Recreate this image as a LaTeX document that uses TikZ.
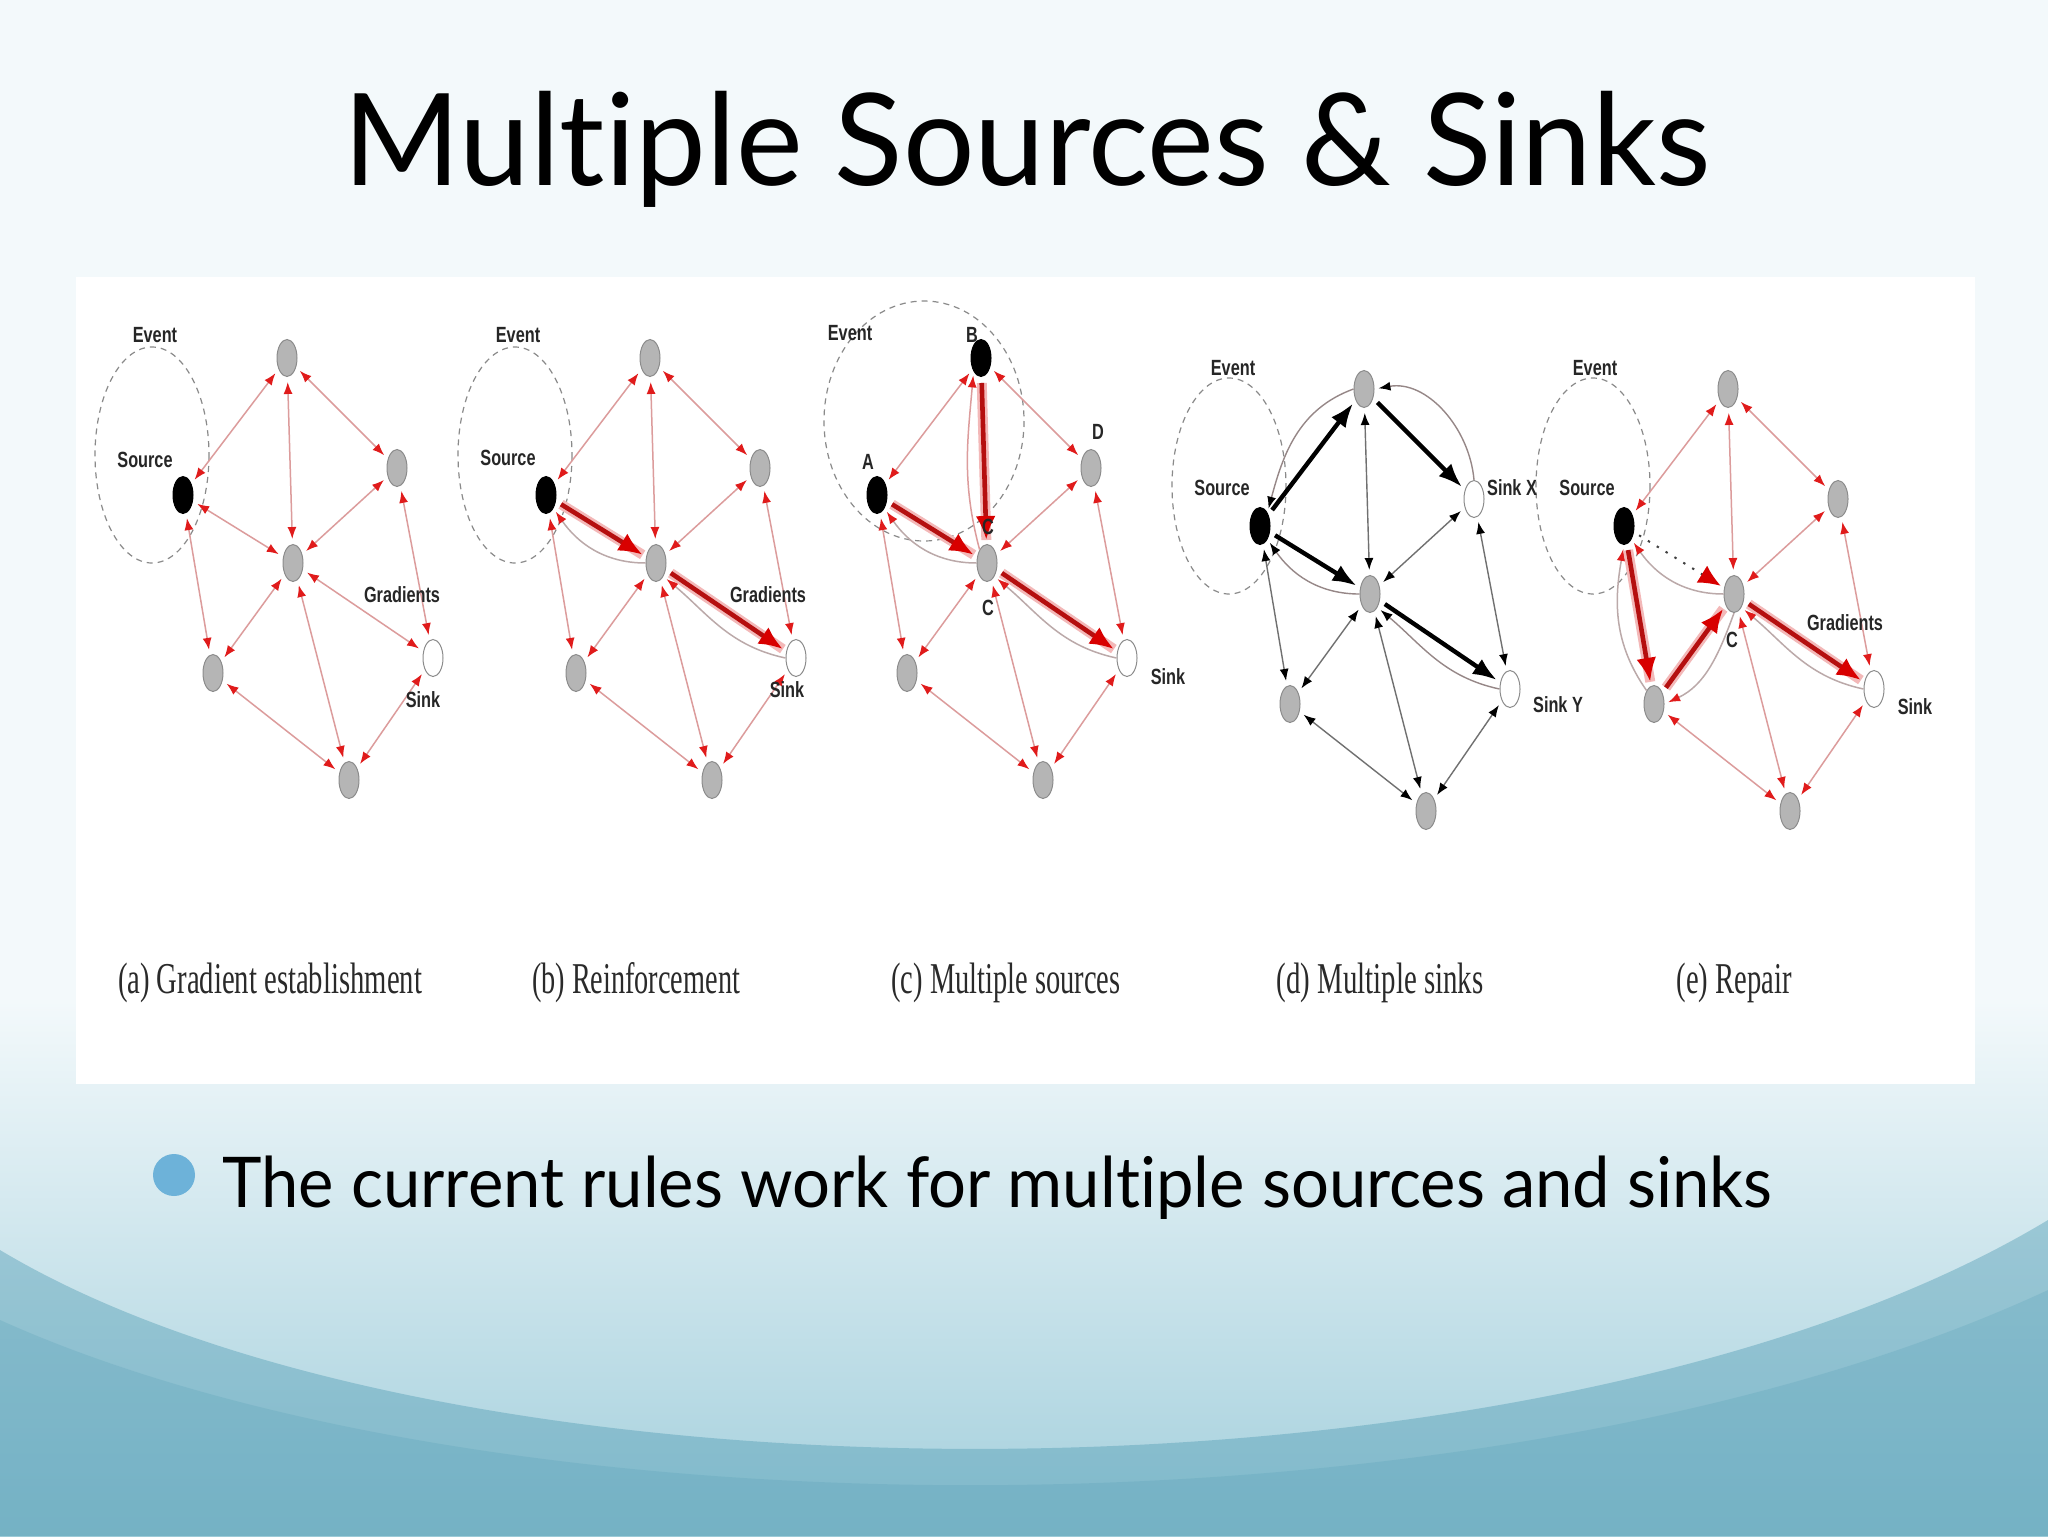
\documentclass[tikz,border=0pt]{standalone}
\usepackage{fontspec}
\setmainfont{Lato}
\newfontfamily\labfont{Liberation Sans}
\newfontfamily\capfont{Liberation Serif}
\usetikzlibrary{arrows.meta,shapes.geometric}

\definecolor{bgtop}{HTML}{F3F9FB}
\definecolor{bgbot}{HTML}{A3CFDC}
\definecolor{wave}{HTML}{4F9BB3}
\definecolor{nodegray}{HTML}{B5B5B5}
\definecolor{nodeedge}{HTML}{8C8C8C}
\definecolor{edgered}{HTML}{DC9C9C}
\definecolor{arrred}{HTML}{E01B1B}
\definecolor{thkred}{HTML}{B50F0F}
\definecolor{thkarrow}{HTML}{D80000}
\definecolor{halored}{HTML}{F3B8B8}
\definecolor{curvegray}{HTML}{BBA9A9}
\definecolor{edgegray}{HTML}{707070}
\definecolor{evgray}{HTML}{8A8A8A}
\definecolor{bulletblue}{HTML}{6DB2D9}
\definecolor{captcol}{HTML}{2A2A2A}

\tikzset{
 nd/.style={ellipse, minimum width=10pt, minimum height=18.5pt, inner sep=0pt, line width=0.5pt},
 gn/.style={nd, fill=nodegray, draw=nodeedge},
 bn/.style={nd, fill=black, draw=black},
 wn/.style={nd, fill=white, draw=nodeedge},
 re/.style={draw=edgered, line width=0.75pt, {Latex[length=6pt,width=4.5pt,color=arrred]}-{Latex[length=6pt,width=4.5pt,color=arrred]}, shorten <=2.5pt, shorten >=2.5pt},
 ke/.style={draw=edgegray, line width=0.7pt, {Latex[length=6pt,width=4.5pt,color=black]}-{Latex[length=6pt,width=4.5pt,color=black]}, shorten <=2.5pt, shorten >=2.5pt},
 rthk/.style={draw=thkred, line width=2.3pt, -{Latex[length=12pt,width=10pt,color=thkarrow]}, shorten <=3pt, shorten >=2pt,
   preaction={draw=halored, line width=5pt, arrows=-}},
 kthk/.style={draw=black, line width=2.2pt, -{Latex[length=12pt,width=9pt]}, shorten <=3pt, shorten >=2pt},
 rcv/.style={draw=curvegray, line width=0.75pt, -{Latex[length=6pt,width=4.5pt,color=arrred]}, shorten >=2pt},
 kcv/.style={draw=curvegray!80!black, line width=0.7pt, -{Latex[length=6pt,width=4.5pt,color=black]}, shorten >=2pt},
 evt/.style={draw=evgray, line width=0.6pt, dash pattern=on 3pt off 2.5pt},
 lab/.style={inner sep=0pt, font=\labfont\bfseries\fontsize{11}{13}\selectfont, text=black!85},
 captxt/.style={inner sep=0pt, anchor=base, text=captcol, font=\capfont\fontsize{22}{26}\selectfont},
}
\newcommand\lbl[1]{\scalebox{0.74}[1]{#1}}
\newcommand\pnodes[5]{%
 \node[#2] (#1T) at (287,358) {};
 \node[#3] (#1R) at (397,468) {};
 \node[#4] (#1S) at (183,495) {};
 \node[gn] (#1C) at (293,563) {};
 \node[#5] (#1K) at (433,658) {};
 \node[gn] (#1L) at (213,673) {};
 \node[gn] (#1B) at (349,780) {};
}

\begin{document}
\begin{tikzpicture}[x=0.5pt,y=-0.5pt]
\useasboundingbox (0,0) rectangle (2048,1536);
% background
\fill[bgtop] (0,0) rectangle (2048,1536);
\shade[top color=bgtop, bottom color=bgbot] (0,1000) rectangle (2048,1536);
\fill[wave, opacity=0.42] (0,1250) .. controls (450,1520) and (1550,1520) .. (2048,1220) -- (2048,1536) -- (0,1536) -- cycle;
\fill[wave, opacity=0.22] (0,1320) .. controls (500,1545) and (1500,1545) .. (2048,1290) -- (2048,1536) -- (0,1536) -- cycle;
% white panel
\fill[white] (76,277) rectangle (1975,1084);

% title
\node[anchor=base west, inner sep=0pt] (title) at (343,185)
 {\resizebox{683.5pt}{\height}{\fontsize{64}{70}\selectfont Mult\kern0pt iple Sources \& Sinks}};

% ---------- panel a ----------
\draw[evt] (152,455) ellipse [x radius=57, y radius=108];
\pnodes{a}{gn}{gn}{bn}{wn}
\foreach \u/\v in {S/T,S/C,S/L,T/C,T/R,R/C,R/K,C/K,C/L,C/B,L/B,K/B}
  \draw[re] (a\u) -- (a\v);

% ---------- panel b ----------
\begin{scope}[shift={(363,0)}]
\draw[evt] (152,455) ellipse [x radius=57, y radius=108];
\pnodes{b}{gn}{gn}{bn}{wn}
\end{scope}
\foreach \u/\v in {S/T,S/L,T/C,T/R,R/C,R/K,C/L,C/B,L/B,K/B}
  \draw[re] (b\u) -- (b\v);
\draw[rcv] (bC.west) to[out=180,in=-55] (bS.south east);
\draw[rcv] (bK.west) to[out=168,in=-40] (bC.south east);
\draw[rthk] (bS) -- (bC);
\draw[rthk] (bC) -- (bK);

% ---------- panel c ----------
\begin{scope}[shift={(694,0)}]
\draw[evt] (230,421) ellipse [x radius=100, y radius=120];
\pnodes{c}{bn}{gn}{bn}{wn}
\end{scope}
\foreach \u/\v in {S/T,S/L,T/R,R/C,R/K,C/L,C/B,L/B,K/B}
  \draw[re] (c\u) -- (c\v);
\draw[rcv] (cC.west) to[out=180,in=-55] (cS.south east);
\draw[rcv] (cK.west) to[out=168,in=-40] (cC.south east);
\draw[rcv, draw=edgered] (cC.north west) to[out=105,in=-95] (cT.south west);
\draw[rthk] (cS) -- (cC);
\draw[rthk] (cT) -- (cC);
\draw[rthk] (cC) -- (cK);

% ---------- panel d ----------
\begin{scope}[shift={(1077,31)}]
\draw[evt] (152,455) ellipse [x radius=57, y radius=108];
\pnodes{d}{gn}{wn}{bn}{wn}
\end{scope}
\foreach \u/\v in {T/C,R/C,R/K,S/L,C/L,C/B,L/B,K/B}
  \draw[ke] (d\u) -- (d\v);
\draw[kcv] (dR.north) to[out=95,in=10] (dT.east);
\draw[kcv] (dT.west) to[out=200,in=75] (dS.north east);
\draw[kcv] (dC.west) to[out=180,in=-55] (dS.south east);
\draw[kcv] (dK.west) to[out=168,in=-40] (dC.south east);
\draw[kthk] (dS) -- (dT);
\draw[kthk] (dT) -- (dR);
\draw[kthk] (dS) -- (dC);
\draw[kthk] (dC) -- (dK);

% ---------- panel e ----------
\begin{scope}[shift={(1441,31)}]
\draw[evt] (152,455) ellipse [x radius=57, y radius=108];
\pnodes{e}{gn}{gn}{bn}{wn}
\end{scope}
\foreach \u/\v in {S/T,T/C,T/R,R/C,R/K,C/B,L/B,K/B}
  \draw[re] (e\u) -- (e\v);
\draw[rcv] (eC.west) to[out=180,in=-55] (eS.south east);
\draw[rcv] (eK.west) to[out=168,in=-40] (eC.south east);
\draw[rcv] (eL.north west) to[out=125,in=-100] (eS.south);
\draw[rcv] (eC.south) to[out=-110,in=25] (eL.east);
\draw[black!75, line width=1pt, dash pattern=on 1.2pt off 4pt, -{Latex[length=11pt,width=10pt,color=thkarrow]}, shorten <=3pt, shorten >=2pt] (eS) -- (eC);
\draw[rthk] (eS) -- (eL);
\draw[rthk] (eL) -- (eC);
\draw[rthk] (eC) -- (eK);

% ---------- labels ----------
\node[lab] (la1) at (155,335) {\lbl{Event}};
\node[lab] (la2) at (145,460) {\lbl{Source}};
\node[lab] (la3) at (402,595) {\lbl{Gradients}};
\node[lab] (la4) at (423,700) {\lbl{Sink}};

\node[lab] (lb1) at (518,335) {\lbl{Event}};
\node[lab] (lb2) at (508,458) {\lbl{Source}};
\node[lab] (lb3) at (768,595) {\lbl{Gradients}};
\node[lab] (lb4) at (787,690) {\lbl{Sink}};

\node[lab] (lc1) at (850,333) {\lbl{Event}};
\node[lab] (lc2) at (972,335) {\lbl{B}};
\node[lab] (lc3) at (868,462) {\lbl{A}};
\node[lab] (lc4) at (1098,432) {\lbl{D}};
\node[lab] (lc5) at (988,527) {\lbl{C}};
\node[lab] (lc6) at (988,608) {\lbl{C}};
\node[lab] (lc7) at (1168,677) {\lbl{Sink}};

\node[lab] (ld1) at (1233,368) {\lbl{Event}};
\node[lab] (ld2) at (1222,488) {\lbl{Source}};
\node[lab] (ld3) at (1512,488) {\lbl{Sink X}};
\node[lab] (ld4) at (1558,705) {\lbl{Sink Y}};

\node[lab] (le1) at (1595,368) {\lbl{Event}};
\node[lab] (le2) at (1587,488) {\lbl{Source}};
\node[lab] (le3) at (1845,623) {\lbl{Gradients}};
\node[lab] (le4) at (1732,640) {\lbl{C}};
\node[lab] (le5) at (1915,707) {\lbl{Sink}};

% ---------- captions ----------
\node[captxt] (capa) at (270,993) {\resizebox{152pt}{\height}{(a) Gradient establishment}};
\node[captxt] (capb) at (636,993) {\resizebox{104pt}{\height}{(b) Reinforcement}};
\node[captxt] (capc) at (1006,993) {\resizebox{114.5pt}{\height}{(c) Multiple sources}};
\node[captxt] (capd) at (1380,993) {\resizebox{103.5pt}{\height}{(d) Multiple sinks}};
\node[captxt] (cape) at (1734,993) {\resizebox{57.5pt}{\height}{(e) Repair}};

% ---------- bullet ----------
\node[circle, fill=bulletblue, minimum size=21pt, inner sep=0pt] (bul) at (174,1175) {};
\node[anchor=base west, inner sep=0pt] (btxt) at (222,1207)
 {\resizebox{775pt}{\height}{\fontsize{35}{40}\selectfont The current rules work for mult\kern0pt iple sources and sinks}};
\end{tikzpicture}
\end{document}
